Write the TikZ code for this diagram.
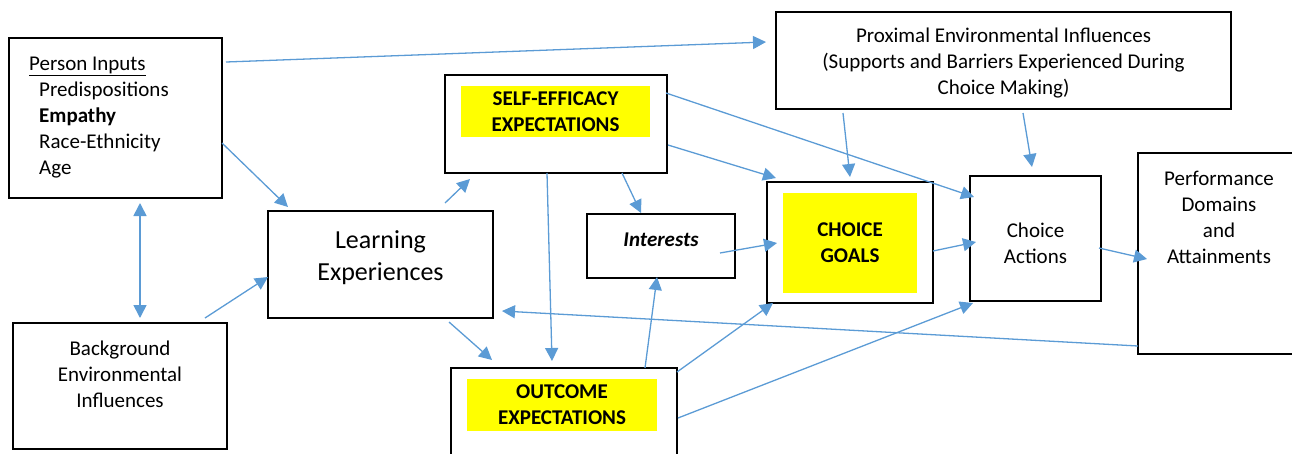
\documentclass[tikz,border=0pt]{standalone}
\usepackage{fontspec}
\setmainfont{Carlito}
\usepackage{tikz}
\usetikzlibrary{arrows.meta,calc}

\definecolor{arrblue}{RGB}{91,155,213}
\definecolor{hlyellow}{RGB}{255,255,0}

\tikzset{
  box/.style={draw, line width=1.6pt, inner sep=0pt, outer sep=0pt},
  hl/.style={fill=hlyellow, inner sep=0pt, align=center, font=\fontsize{21}{26}\selectfont\bfseries},
  txt/.style={inner sep=0pt, align=center},
  arr/.style={draw=arrblue, line width=1.3pt, -{Triangle[length=13pt,width=13pt]}},
  dblarr/.style={draw=arrblue, line width=1.6pt, {Triangle[length=13pt,width=13pt]}-{Triangle[length=13pt,width=13pt]}}
}

\begin{document}
\begin{tikzpicture}[x=1pt, y=-1pt, font=\fontsize{21}{26}\selectfont]
  \useasboundingbox (0,0) rectangle (1292,453);

  % Person Inputs
  \node[box, minimum width=213pt, minimum height=160pt] (pi) at (115.5,118) {};
  \node[txt, align=left, anchor=north west] (pi-txt) at (29,57)
    {\underline{Person Inputs}\\ \hspace*{10pt}Predispositions\\ \hspace*{10pt}\textbf{Empathy}\\
     \hspace*{10pt}Race-Ethnicity\\ \hspace*{10pt}Age};

  % Background Environmental Influences
  \node[box, minimum width=214pt, minimum height=126pt] (bg) at (120,386) {};
  \node[txt] (bg-txt) at (120,374) {Background\\Environmental\\Influences};

  % Learning Experiences
  \node[box, minimum width=225pt, minimum height=107pt] (le) at (380.5,264.5) {};
  \node[txt, font=\fontsize{26}{32}\selectfont] (le-txt) at (380.5,258) {Learning\\Experiences};

  % Self-Efficacy
  \node[box, minimum width=222pt, minimum height=98pt] (se) at (556,124) {};
  \node[hl, minimum width=189pt, minimum height=51pt] (se-hl) at (555.5,111.5) {SELF-EFFICACY\\EXPECTATIONS};

  % Outcome Expectations
  \node[box, minimum width=226pt, minimum height=102pt] (oc) at (564,419) {};
  \node[hl, minimum width=190pt, minimum height=52pt] (oc-hl) at (562,405) {OUTCOME\\EXPECTATIONS};

  % Interests
  \node[box, minimum width=148pt, minimum height=64pt] (int) at (661,246) {};
  \node[txt, font=\fontsize{21}{26}\selectfont\bfseries\itshape] (int-txt) at (661,240) {Interests};

  % Choice Goals
  \node[box, line width=2.6pt, minimum width=166pt, minimum height=121pt] (cg) at (850,242.5) {};
  \node[hl, minimum width=134pt, minimum height=100pt] (cg-hl) at (850,243) {CHOICE\\GOALS};

  % Choice Actions
  \node[box, minimum width=131pt, minimum height=125pt] (ca) at (1035.5,238.5) {};
  \node[txt] (ca-txt) at (1035.5,243) {Choice\\Actions};

  % Proximal Environmental Influences
  \node[box, minimum width=455pt, minimum height=97pt] (prox) at (1003.5,60.5) {};
  \node[txt] (prox-txt) at (1003.5,63) {Proximal Environmental Influences\\(Supports and Barriers Experienced During\\Choice Making)};

  % Performance Domains
  \node[box, minimum width=162pt, minimum height=201pt] (perf) at (1219,253.5) {};
  \node[txt] (perf-txt) at (1219,217) {Performance\\Domains\\and\\Attainments};

  % Setas
  \draw[arr] ($(pi.north east)+(4,24)$) -- ($(prox.west)+(-10,-18.5)$);
  \draw[arr] ($(pi.east)+(0,25)$) -- ($(le.north west)+(20,-4)$);
  \draw[dblarr] ($(pi.south)+(24.5,5)$) -- ($(bg.north)+(20,-5)$);
  \draw[arr] ($(bg.north)+(85,-5)$) -- ($(le.west)+(0,12.5)$);
  \draw[arr] ($(le.north east)+(-48,-8)$) -- ($(se.south west)+(25,6)$);
  \draw[arr] ($(le.south east)+(-44,4)$) -- ($(oc.north west)+(41,-8)$);
  \draw[arr] ($(se.south)+(-9,0)$) -- ($(oc.north)+(-12,-7)$);
  \draw[arr] ($(se.south east)+(-45,0)$) -- ($(int.north)+(-20,-1)$);
  \draw[arr] ($(se.east)+(1,21)$) -- ($(cg.north west)+(9,-4)$);
  \draw[arr] ($(se.north east)+(-1,18)$) -- ($(ca.north west)+(4,21)$);
  \draw[arr] ($(prox.south west)+(67,4)$) -- ($(cg.north)+(0,-5)$);
  \draw[arr] ($(prox.south west)+(247,4)$) -- ($(ca.north)+(-3.5,-9)$);
  \draw[arr] ($(int.east)+(-15,7)$) -- ($(cg.west)+(10,0.5)$);
  \draw[arr] ($(cg.east)+(0,8.5)$) -- ($(ca.west)+(6,3.5)$);
  \draw[arr] ($(ca.east)+(-2,9.5)$) -- ($(perf.west)+(9,5.5)$);
  \draw[arr] ($(perf.south west)+(0,-8)$) -- ($(le.south east)+(9,-7)$);
  \draw[arr] ($(oc.north)+(81,0)$) -- ($(int.south)+(-4,-1)$);
  \draw[arr] ($(oc.north east)+(0,4)$) -- ($(cg.south west)+(6,0)$);
  \draw[arr] ($(oc.north east)+(1,50)$) -- ($(ca.south west)+(3,2)$);
\end{tikzpicture}
\end{document}
